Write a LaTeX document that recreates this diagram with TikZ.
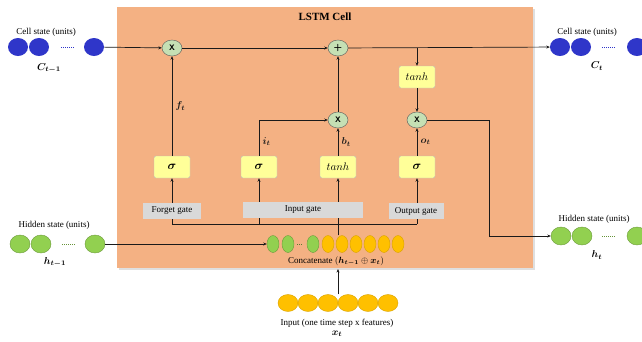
\documentclass[tikz,border=0pt]{standalone}
\usepackage{amsmath,amssymb,bm}
\usepackage{fontspec}
\setmainfont{Liberation Serif}
\usepackage{tikz}
\usetikzlibrary{positioning,arrows.meta,calc,shapes.geometric,shadows}
\definecolor{cellbg}{HTML}{F4B183}
\definecolor{opgreen}{HTML}{C5E0B4}
\definecolor{gateyel}{HTML}{FFFF99}
\definecolor{taggray}{HTML}{D9D9D9}
\definecolor{cblue}{HTML}{2F36C9}
\definecolor{hgreen}{HTML}{92D050}
\definecolor{xyel}{HTML}{FFC000}
\definecolor{figink}{HTML}{1A1A1A}

\begin{document}
\begin{tikzpicture}[
  x=1pt, y=-1pt,
  font=\fontsize{9}{11}\selectfont,
  op/.style={ellipse, draw=gray!70!black, fill=opgreen, minimum width=20pt,
             minimum height=16pt, inner sep=0pt, font=\sffamily\bfseries\footnotesize},
  gatebox/.style={draw=gray!55, fill=gateyel, rounded corners=2pt,
                  minimum width=36pt, minimum height=22pt, inner sep=1pt},
  tag/.style={fill=taggray, minimum height=16pt, inner sep=2pt},
  cunit/.style={ellipse, fill=cblue, minimum width=20pt, minimum height=18pt, inner sep=0pt},
  hunit/.style={ellipse, draw=hgreen!75!black, fill=hgreen, minimum width=20pt,
                minimum height=18pt, inner sep=0pt},
  cat/.style={minimum width=12pt, minimum height=17pt},
  xunit/.style={ellipse, draw=xyel!85!black, fill=xyel, minimum width=20pt,
                minimum height=17pt, inner sep=0pt},
  dots/.style={densely dotted, line width=1pt},
  mlbl/.style={font=\fontsize{10}{12}\selectfont},
  lk/.style={-{Stealth[length=3.5pt, width=3pt]}, figink, line width=0.7pt},
  ln/.style={figink, line width=0.7pt},
]
\useasboundingbox[fill=white] (0,0) rectangle (642,341);
% LSTM cell
\node[fill=cellbg, minimum width=416pt, minimum height=261pt, anchor=north west,
      drop shadow={opacity=0.25, shadow xshift=2pt, shadow yshift=-2pt}]
  (cell) at (117,7) {};
\node[font=\bfseries\fontsize{11}{13}\selectfont] (title) at (325,17) {LSTM Cell};
% Operators and gates
\node[op] (fmul) at (172,48) {X};
\node[op, font=\sffamily\bfseries\normalsize] (addop) at (338,48) {+};
\node[op] (imul) at (338,120) {X};
\node[op] (omul) at (417,120) {X};
\node[gatebox, font=\fontsize{10.5}{12}\selectfont] (otanh) at (417,77) {$tanh$};
\node[gatebox, font=\fontsize{12}{14}\selectfont] (fgate) at (172,167) {$\bm{\sigma}$};
\node[gatebox, font=\fontsize{12}{14}\selectfont] (igate) at (259,167) {$\bm{\sigma}$};
\node[gatebox, font=\fontsize{10.5}{12}\selectfont] (cgate) at (338,167) {$tanh$};
\node[gatebox, font=\fontsize{12}{14}\selectfont] (ogate) at (417,167) {$\bm{\sigma}$};
% Previous states
\node (cprevlbl) at (46,32) {Cell state (units)};
\node[cunit] (cprev1) at (18,47) {};
\node[cunit] (cprev2) at (39,47) {};
\node[cunit] (cprev3) at (94,47) {};
\draw[dots, cblue] (61,47) -- (74,47);
\node[mlbl] (cprevsym) at (49,68) {$\bm{C_{t-1}}$};
\node (hprevlbl) at (54,225) {Hidden state (units)};
\node[hunit] (hprev1) at (20,244) {};
\node[hunit] (hprev2) at (41,244) {};
\node[hunit] (hprev3) at (95,244) {};
\draw[dots, hgreen!70!black] (62,244) -- (75,244);
\node[mlbl] (hprevsym) at (55,262) {$\bm{h_{t-1}}$};
% Next states
\node (cnextlbl) at (587,32) {Cell state (units)};
\node[cunit] (cnext1) at (560,47) {};
\node[cunit] (cnext2) at (581,47) {};
\node[cunit] (cnext3) at (637,47) {};
\draw[dots, cblue] (602,47) -- (615,47);
\node[mlbl] (cnextsym) at (597,66) {$\bm{C_t}$};
\node (hnextlbl) at (594,219) {Hidden state (units)};
\node[hunit] (hnext1) at (561,236) {};
\node[hunit] (hnext2) at (582,236) {};
\node[hunit] (hnext3) at (637,236) {};
\draw[dots, hgreen!70!black] (602,236) -- (615,236);
\node[mlbl] (hnextsym) at (597,255) {$\bm{h_t}$};
% Concatenation
\node[hunit, cat] (g1) at (273,244) {};
\node[hunit, cat] (g2) at (288,244) {};
\draw[dots, hgreen!60!black] (297,244) -- (303,244);
\node[hunit, cat] (g3) at (313,244) {};
\foreach \i/\px in {1/328,2/342,3/356,4/370,5/384,6/398}
  \node[xunit, cat] (y\i) at (\px,244) {};
\node (concatlbl) at (336,261) {Concatenate $(\bm{h_{t-1}}\oplus\bm{x_t})$};
% Input
\foreach \i/\px in {1/288,2/308,3/328,4/348,5/368,6/388}
  \node[xunit] (x\i) at (\px,303) {};
\node (inlbl) at (337,323) {Input (one time step x features)};
\node[mlbl] (insym) at (337,334) {$\bm{x_t}$};
% Cell state path
\draw[lk] (cprev3) -- (fmul);
\draw[lk] (fmul) -- (addop);
\draw[lk] (addop) -- (cnext1);
\draw[lk] (otanh |- addop) -- (otanh);
\draw[lk] (fgate) -- node[right, mlbl]{$\bm{f_t}$} (fmul);
\draw[lk] (igate.north) |- node[pos=0.2, right, mlbl]{$\bm{i_t}$} (imul.west);
\draw[lk] (cgate) -- node[right, mlbl]{$\bm{b_t}$} (imul);
\draw[lk] (imul) -- (addop);
\draw[lk] (otanh) -- (omul);
\draw[lk] (ogate) -- node[right, mlbl]{$\bm{o_t}$} (omul);
\draw[lk] (omul.east) -- (489,120) |- (hnext1.west);
% Hidden state and input feed
\draw[lk] (hprev3) -- (g1);
\draw[lk] (x3.north -| cgate) -- (concatlbl.south -| cgate);
\coordinate (busL) at (fgate |- 0,224);
\coordinate (busR) at (ogate |- 0,224);
\draw[ln] (cgate |- y1.north) -- (cgate |- busL);
\draw[ln] (busL) -- (busR);
\draw[lk] (busL) -- (fgate);
\draw[lk] (igate |- busL) -- (igate);
\draw[lk] (cgate |- busL) -- (cgate);
\draw[lk] (busR) -- (ogate);
% Gate tags
\node[tag, minimum width=58pt] (ftag) at (172,211) {Forget gate};
\node[tag, minimum width=120pt] (itag) at (303,210) {Input gate};
\node[tag, minimum width=55pt] (otag) at (416,211) {Output gate};
\end{tikzpicture}
\end{document}
